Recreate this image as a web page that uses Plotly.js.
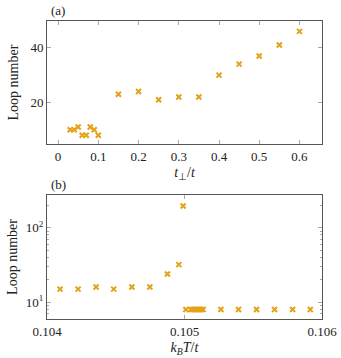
<!DOCTYPE html>
<html>
<head>
<meta charset="utf-8">
<script src="https://cdn.plot.ly/plotly-3.0.1.min.js"></script>
<style>
  html, body { margin: 0; padding: 0; background: #fff; }
  #graph { width: 341px; height: 358px; }
</style>
</head>
<body>
<div id="graph"></div>
<script>
// panel (a): loop number vs t_perp/t
var tPerp = [0.03, 0.04, 0.05, 0.06, 0.07, 0.08, 0.09, 0.10,
             0.15, 0.20, 0.25, 0.30, 0.35, 0.40, 0.45, 0.50, 0.55, 0.60];
var loopsA = [10, 10, 11, 8, 8, 11, 10, 8,
              23, 24, 21, 22, 22, 30, 34, 37, 41, 46];

// panel (b): loop number vs k_B T / t
var kT = [0.104095, 0.104226, 0.104357, 0.104485, 0.104617, 0.104748, 0.104876,
          0.104959, 0.104990, 0.105010, 0.105045, 0.105060, 0.105075, 0.105090,
          0.105105, 0.105120, 0.105135, 0.105265, 0.105393, 0.105524, 0.105655,
          0.105786, 0.105915];
var loopsB = [15, 15, 16, 15, 16, 16, 24,
              32, 195, 8, 8, 8, 8, 8,
              8, 8, 8, 8, 8, 8, 8,
              8, 8];

var logMajor = [10, 100];
var logMajorText = ['10<sup>1</sup>', '10<sup>2</sup>'];
var logMinor = [6, 7, 8, 9, 20, 30, 40, 50, 60, 70, 80, 90, 200];

var ORANGE = '#e6a117';
var FONT = 'Liberation Serif';

var marker = {symbol: 'x-thin-open', size: 5, color: ORANGE, line: {color: ORANGE, width: 2}};

var data = [{
    x: tPerp, y: loopsA, type: 'scatter', mode: 'markers',
    marker: marker, xaxis: 'x', yaxis: 'y', hoverinfo: 'x+y'
}, {
    x: kT, y: loopsB, type: 'scatter', mode: 'markers',
    marker: marker, xaxis: 'x2', yaxis: 'y2', hoverinfo: 'x+y'
}];

// pgfplots-like axis box
function boxAxis(extra) {
    var ax = {
        showline: true, linecolor: '#555', linewidth: 1, mirror: 'ticks',
        ticks: 'inside', ticklen: 4, tickcolor: '#aaa', tickwidth: 1,
        showgrid: false, zeroline: false,
        tickfont: {family: FONT, size: 13, color: '#222'}
    };
    for (var k in extra) ax[k] = extra[k];
    return ax;
}

var layout = {
    width: 341, height: 358,
    margin: {l: 47, r: 19, t: 21, b: 39},
    paper_bgcolor: '#fff', plot_bgcolor: '#fff',
    showlegend: false,
    font: {family: FONT, size: 13, color: '#222'},
    xaxis: boxAxis({
        anchor: 'y', domain: [0, 1], range: [-0.0275, 0.656],
        tickvals: [0, 0.1, 0.2, 0.3, 0.4, 0.5, 0.6],
        ticktext: ['0', '0.1', '0.2', '0.3', '0.4', '0.5', '0.6'],
        title: {text: '<i>t</i><sub>⊥</sub>/<i>t</i>', standoff: 4, font: {family: FONT, size: 14}}
    }),
    yaxis: boxAxis({
        anchor: 'x', domain: [0.587, 1], range: [4.75, 49.8],
        tickvals: [20, 40],
        title: {text: 'Loop number', standoff: 8, font: {family: FONT, size: 14}}
    }),
    xaxis2: boxAxis({
        anchor: 'y2', domain: [0, 1], range: [0.104, 0.106],
        tickvals: [0.104, 0.105, 0.106],
        ticktext: ['0.104', '0.105', '0.106'],
        title: {text: '<i>k<sub>B</sub>T</i>/<i>t</i>', standoff: 4, font: {family: FONT, size: 14}}
    }),
    yaxis2: boxAxis({
        anchor: 'x2', domain: [0, 0.416], type: 'log', range: [0.776, 2.438],
        tickvals: logMajor, ticktext: logMajorText,
        minor: {tickvals: logMinor, ticks: 'inside', ticklen: 2, tickcolor: '#aaa', showgrid: false},
        title: {text: 'Loop number', standoff: 4, font: {family: FONT, size: 14}}
    }),
    annotations: [{
        text: '(a)', xref: 'paper', yref: 'paper', x: 0.04, y: 1,
        xanchor: 'center', yanchor: 'bottom', yshift: 1, showarrow: false,
        font: {family: FONT, size: 13}
    }, {
        text: '(b)', xref: 'paper', yref: 'paper', x: 0.04, y: 0.416,
        xanchor: 'center', yanchor: 'bottom', yshift: 1, showarrow: false,
        font: {family: FONT, size: 13}
    }]
};

Plotly.newPlot('graph', data, layout, {displayModeBar: false, staticPlot: true});
</script>
</body>
</html>
